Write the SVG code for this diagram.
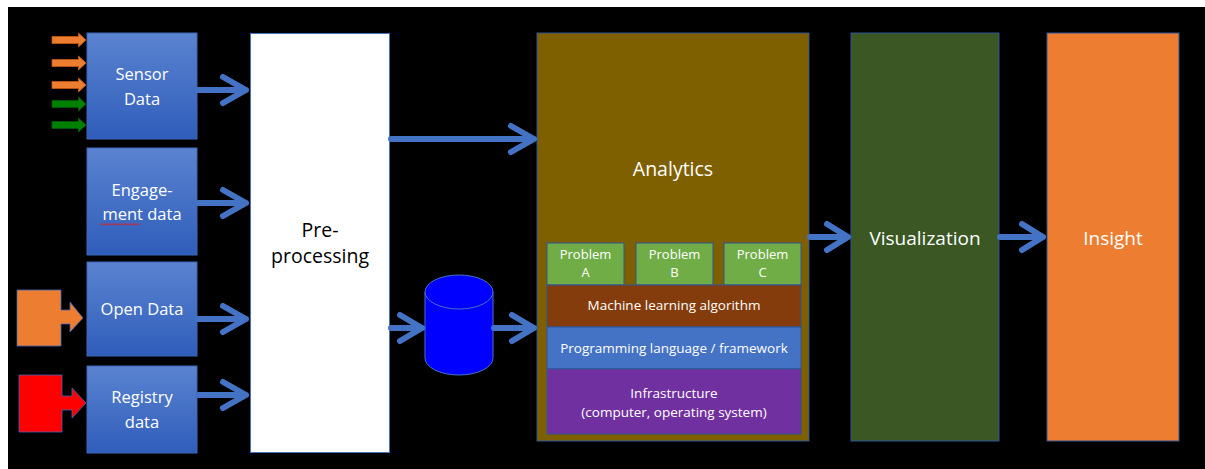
<svg xmlns="http://www.w3.org/2000/svg" width="1205" height="469" viewBox="0 0 1205 469">
<defs>
<linearGradient id="gBlue" x1="0" y1="0" x2="0" y2="1">
<stop offset="0" stop-color="#5A83D0"/>
<stop offset="1" stop-color="#2F5DBA"/>
</linearGradient>
</defs>
<style>
.lbl{font-family:"Open Sans","Noto Sans",sans-serif;fill:#FFFFFF;text-anchor:middle}
.src{fill:url(#gBlue);stroke:#3D68B8;stroke-width:1}
.con{fill:none;stroke:#4472C4;stroke-width:6;stroke-linecap:round;stroke-linejoin:round}
.big{stroke:#2F5597;stroke-width:1}
.orangeIn{fill:#ED7D31;stroke:#C55A11;stroke-width:0.8}
.greenIn{fill:#008000;stroke:#005A00;stroke-width:0.8}
.layer{stroke:#2F5597;stroke-width:1}
</style>
<rect x="0" y="0" width="1205" height="469" fill="#FFFFFF"/>
<rect x="8" y="7" width="1197" height="462" fill="#000000"/>

<g id="sensor-inputs">
<path class="orangeIn" d="M52 36.5H78.5V33L86 40L78.5 47V43.5H52Z"/>
<path class="orangeIn" d="M52 59.5H78.5V56L86 63L78.5 70V66.5H52Z"/>
<path class="orangeIn" d="M52 81.5H78.5V78L86 85L78.5 92V88.5H52Z"/>
<path class="greenIn" d="M52 100.5H78.5V97L86 104L78.5 111V107.5H52Z"/>
<path class="greenIn" d="M52 121.5H78.5V118L86 125L78.5 132V128.5H52Z"/>
</g>

<g id="open-data-input">
<path d="M17 290H61V310H70V302L83 318L70 332V324H61V346H17Z" fill="#ED7D31" stroke="#3D68B8" stroke-width="0.8"/>
</g>
<g id="registry-input">
<path d="M19 375H62V396H72V388L86 403L72 418V410H62V432H19Z" fill="#FF0000" stroke="#3D68B8" stroke-width="0.8"/>
</g>

<g id="sensor-data">
<rect class="src" x="87" y="33" width="110" height="106"/>
<text class="lbl" x="142" y="80" font-size="16.5">Sensor</text>
<text class="lbl" x="142" y="105" font-size="16.5">Data</text>
</g>
<g id="engagement-data">
<rect class="src" x="87" y="148" width="110" height="107"/>
<text class="lbl" x="142" y="196" font-size="16.5">Engage-</text>
<text class="lbl" x="142" y="220" font-size="16.5">ment data</text>
<path d="M100 225l2-1.5l2 1.5l2-1.5l2 1.5l2-1.5l2 1.5l2-1.5l2 1.5l2-1.5l2 1.5l2-1.5l2 1.5l2-1.5l2 1.5l2-1.5l2 1.5l2-1.5l2 1.5l2-1.5l2 1.5" fill="none" stroke="#E02020" stroke-width="1"/>
</g>
<g id="open-data">
<rect class="src" x="87" y="262" width="110" height="94"/>
<text class="lbl" x="142" y="315" font-size="16.5">Open Data</text>
</g>
<g id="registry-data">
<rect class="src" x="87" y="366" width="110" height="87"/>
<text class="lbl" x="142" y="403" font-size="16.5">Registry</text>
<text class="lbl" x="142" y="428" font-size="16.5">data</text>
</g>

<g id="pre-processing">
<rect x="250.5" y="33.5" width="139" height="419" fill="#FFFFFF" stroke="#4472C4" stroke-width="1"/>
<text x="320" y="237" font-size="19.5" font-family="'Open Sans','Noto Sans',sans-serif" fill="#000000" text-anchor="middle">Pre-</text>
<text x="320" y="263" font-size="19.5" font-family="'Open Sans','Noto Sans',sans-serif" fill="#000000" text-anchor="middle">processing</text>
</g>

<g id="database">
<path d="M425 292V358A34 17 0 0 0 493 358V292" fill="#0000FF" stroke="#4472C4" stroke-width="1"/>
<ellipse cx="459" cy="292" rx="34" ry="17" fill="#0000FF" stroke="#4472C4" stroke-width="1"/>
</g>

<g id="analytics">
<rect class="big" x="537" y="33" width="272" height="408" fill="#7F6000"/>
<text class="lbl" x="673" y="176" font-size="19.5">Analytics</text>
</g>
<g id="problem-a">
<rect class="layer" x="547" y="243" width="77" height="42" fill="#70AD47"/>
<text class="lbl" x="585.5" y="259" font-size="13">Problem</text>
<text class="lbl" x="585.5" y="277" font-size="13">A</text>
</g>
<g id="problem-b">
<rect class="layer" x="636" y="243" width="77" height="42" fill="#70AD47"/>
<text class="lbl" x="674.5" y="259" font-size="13">Problem</text>
<text class="lbl" x="674.5" y="277" font-size="13">B</text>
</g>
<g id="problem-c">
<rect class="layer" x="724" y="243" width="77" height="42" fill="#70AD47"/>
<text class="lbl" x="762.5" y="259" font-size="13">Problem</text>
<text class="lbl" x="762.5" y="277" font-size="13">C</text>
</g>
<g id="ml-algorithm">
<rect class="layer" x="547" y="285" width="254" height="42" fill="#843C0C"/>
<text class="lbl" x="674" y="310" font-size="13.5">Machine learning algorithm</text>
</g>
<g id="programming">
<rect class="layer" x="547" y="327" width="254" height="42" fill="#4472C4"/>
<text class="lbl" x="674" y="353" font-size="13.5">Programming language / framework</text>
</g>
<g id="infrastructure">
<rect class="layer" x="547" y="369" width="254" height="65" fill="#7030A0"/>
<text class="lbl" x="674" y="398" font-size="13.5">Infrastructure</text>
<text class="lbl" x="674" y="417" font-size="13.5">(computer, operating system)</text>
</g>

<g id="visualization">
<rect class="big" x="851" y="33" width="148" height="408" fill="#3A5724"/>
<text class="lbl" x="925" y="245" font-size="19">Visualization</text>
</g>
<g id="insight">
<rect class="big" x="1047" y="33" width="132" height="408" fill="#ED7D31"/>
<text class="lbl" x="1113" y="245" font-size="19">Insight</text>
</g>

<g id="connectors">
<path class="con" d="M198 90H246M223 77L246 90L223 103"/>
<path class="con" d="M198 203H246M223 190L246 203L223 216"/>
<path class="con" d="M198 319H246M223 306L246 319L223 332"/>
<path class="con" d="M198 395H246M223 382L246 395L223 408"/>
<path class="con" d="M391 139H534M511 126L534 139L511 152"/>
<path class="con" d="M391 328H422M400 315L422 328L400 341"/>
<path class="con" d="M494 328H534M512 315L534 328L512 341"/>
<path class="con" d="M810 237H848M827 224L848 237L827 250"/>
<path class="con" d="M1000 237H1043M1022 224L1043 237L1022 250"/>
</g>
</svg>
